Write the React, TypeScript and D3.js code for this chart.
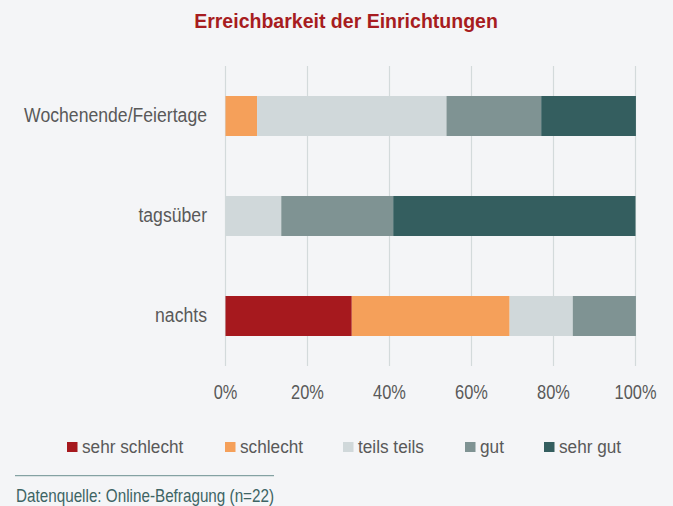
import React from "react";
import * as d3 from "d3";

const categories = ["Wochenende/Feiertage", "tagsüber", "nachts"];
const seriesNames = ["sehr schlecht", "schlecht", "teils teils", "gut", "sehr gut"];
const sehrSchlecht = [0, 0, 30.8];
const schlecht = [7.7, 0, 38.5];
const teilsTeils = [46.2, 13.6, 15.4];
const gut = [23.1, 27.3, 15.4];
const sehrGut = [23.1, 59.1, 0];
const tickValues = [0, 20, 40, 60, 80, 100];
const colors = ["#a6191e", "#f5a05a", "#d0d8da", "#7f9393", "#345e5f"];

const W = 673;
const H = 506;
const FONT = "'Liberation Sans', Arial, sans-serif";

function T(props: any) {
  const { x, y, sx = 1, children, ...rest } = props;
  return (
    <text transform={`translate(${x},${y}) scale(${sx},1)`} {...rest}>
      {children}
    </text>
  );
}

export default function App() {
  const seriesValues = [sehrSchlecht, schlecht, teilsTeils, gut, sehrGut];
  const rows = categories.map((c, i) => {
    const o: any = { cat: c };
    seriesNames.forEach((s, j) => (o[s] = seriesValues[j][i]));
    return o;
  });
  const stack = d3.stack().keys(seriesNames)(rows as any);

  const x = d3.scaleLinear().domain([0, 100]).range([225.5, 635.5]);
  const y = d3.scaleBand().domain(categories).range([66, 366]).paddingInner(0.6).paddingOuter(0.3);

  const legendX = [67, 225, 343, 465, 544];

  return (
    <svg width={W} height={H} style={{ position: "absolute", left: 0, top: 0 }} fontFamily={FONT}>
      <rect x={0} y={0} width={W} height={H} fill="#f4f5f7" />
      <T x={346} y={28.3} sx={0.93} textAnchor="middle" fontSize={21} fontWeight="bold" fill="#a71c20">
        Erreichbarkeit der Einrichtungen
      </T>
      {tickValues.map((t) => (
        <line key={t} x1={x(t)} x2={x(t)} y1={66} y2={366} stroke="#d3dadb" strokeWidth={1.2} />
      ))}
      {stack.map((s, si) =>
        s.map((d: any, i) => {
          const w = x(d[1]) - x(d[0]);
          if (w <= 0) return null;
          return (
            <rect
              key={si + "-" + i}
              x={x(d[0])}
              y={y(d.data.cat)}
              width={w}
              height={y.bandwidth()}
              fill={colors[si]}
            />
          );
        })
      )}
      {categories.map((c) => (
        <T key={c} x={207} y={(y(c) as number) + y.bandwidth() / 2 + 5.7} sx={0.84} textAnchor="end" fontSize={21} fill="#595959">
          {c}
        </T>
      ))}
      {tickValues.map((t) => (
        <T key={t} x={x(t)} y={399.3} sx={0.82} textAnchor="middle" fontSize={20} fill="#595959">
          {t + "%"}
        </T>
      ))}
      {seriesNames.map((s, i) => (
        <g key={s}>
          <rect x={legendX[i]} y={442} width={10.5} height={10} fill={colors[i]} />
          <T x={legendX[i] + 15} y={452.7} sx={0.93} fontSize={18.5} fill="#595959">
            {s}
          </T>
        </g>
      ))}
      <line x1={15} x2={274} y1={475.7} y2={475.7} stroke="#6b8f8f" strokeWidth={1} />
      <T x={16} y={501.7} sx={0.82} fontSize={18.6} fill="#3d6464">
        Datenquelle: Online-Befragung (n=22)
      </T>
    </svg>
  );
}
